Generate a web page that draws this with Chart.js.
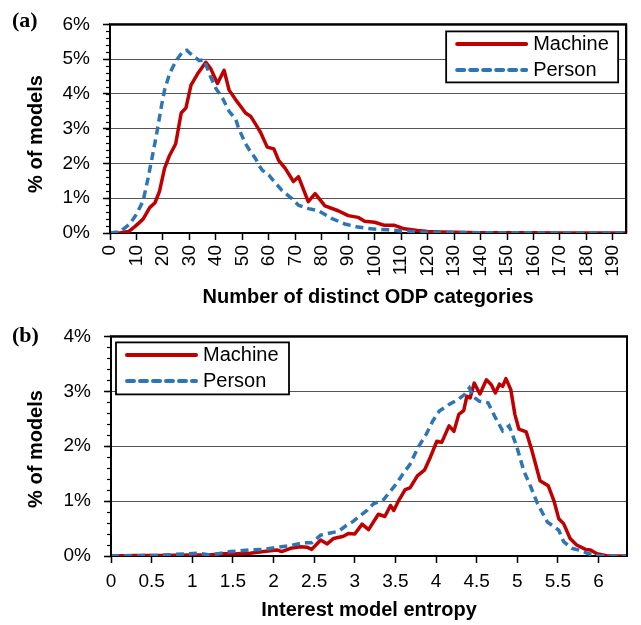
<!DOCTYPE html>
<html>
<head>
<meta charset="utf-8">
<script src="https://cdn.jsdelivr.net/npm/chart.js@4.4.1/dist/chart.umd.min.js"></script>
<style>
  html, body { margin: 0; padding: 0; background: #fff; }
  #wrap { position: relative; width: 641px; height: 625px; }
  canvas { position: absolute; left: 0; }
  #ca { top: 0; }
  #cb { top: 312px; }
</style>
</head>
<body>
<div id="wrap">
  <canvas id="ca" width="641" height="312"></canvas>
  <canvas id="cb" width="641" height="313"></canvas>
</div>
<script>
// ---------- Panel (a): number of distinct ODP categories ----------
const catTicks = [0,10,20,30,40,50,60,70,80,90,100,110,120,130,140,150,160,170,180,190];
const pctTicksA = [0,1,2,3,4,5,6];

const machineCatX = [0,4,7,9.5,12.5,15,17,18.7,20.6,22.5,24.8,26.9,28.7,30.6,33.1,36.2,38.1,40.6,43.1,45,47.5,49.4,51.2,53.1,55,56.9,59.4,61.9,63.7,66.2,69.3,71.2,74.9,77.5,81.2,86.2,90,93.7,96.2,100,103.7,107.5,111.2,116.2,120,125,130,140,150,160,170,180,190,195];
const machineCatY = [0,0.01,0.04,0.19,0.4,0.73,0.87,1.2,1.86,2.23,2.56,3.45,3.6,4.25,4.58,4.91,4.72,4.3,4.68,4.11,3.83,3.64,3.45,3.36,3.13,2.89,2.47,2.42,2.09,1.86,1.48,1.62,0.9,1.13,0.78,0.64,0.5,0.45,0.34,0.31,0.22,0.22,0.12,0.07,0.04,0.03,0.02,0.01,0.01,0.005,0.003,0.002,0.001,0];

const personCatX = [0,3.75,7.5,10,12.5,14.4,15.6,17.5,19.4,20.6,22.5,25,27.5,29,31.25,33.75,35.6,37.5,40,42.5,45,47.5,48.7,51.25,53,55,56.2,57.5,60,61.25,65,68.7,71.2,75,78.7,83.7,88.7,93.7,98.7,105,111.2,117.5,125,135,150,170,195];
const personCatY = [0,0.04,0.26,0.54,0.92,1.58,2.05,2.8,3.64,4.11,4.58,4.96,5.22,5.26,5.1,4.96,4.98,4.58,4.16,3.88,3.5,3.27,2.99,2.56,2.35,2.14,1.95,1.81,1.67,1.55,1.22,0.99,0.8,0.7,0.64,0.42,0.26,0.17,0.12,0.09,0.056,0.03,0.015,0.01,0.005,0.003,0.002];

// ---------- Panel (b): interest model entropy ----------
const entTicks = [0,0.5,1,1.5,2,2.5,3,3.5,4,4.5,5,5.5,6];
const pctTicksB = [0,1,2,3,4];

const machineEntX = [0,0.3,0.6,0.98,1.2,1.39,1.55,1.71,1.88,2.04,2.1,2.21,2.33,2.41,2.47,2.58,2.66,2.74,2.86,2.92,3.0,3.09,3.17,3.29,3.37,3.44,3.48,3.54,3.62,3.68,3.77,3.86,3.93,4.01,4.07,4.16,4.22,4.28,4.34,4.38,4.42,4.47,4.54,4.62,4.68,4.73,4.78,4.82,4.86,4.92,4.97,5.02,5.11,5.18,5.28,5.38,5.45,5.51,5.57,5.65,5.73,5.84,5.9,5.98,6.11,6.35];
const machineEntY = [0,0.01,0.01,0.02,0.02,0.04,0.04,0.05,0.08,0.11,0.08,0.14,0.17,0.16,0.12,0.29,0.22,0.32,0.36,0.41,0.4,0.58,0.48,0.76,0.72,0.92,0.83,1.01,1.21,1.24,1.46,1.57,1.8,2.09,2.07,2.37,2.27,2.58,2.65,2.91,2.88,3.15,2.95,3.21,3.12,2.97,3.13,3.09,3.23,3.03,2.58,2.31,2.26,1.92,1.37,1.28,1.01,0.68,0.59,0.32,0.2,0.12,0.11,0.04,0,0];

const personEntX = [0,0.3,0.57,0.8,1.06,1.22,1.47,1.71,1.88,2.04,2.21,2.37,2.47,2.58,2.7,2.8,2.9,2.98,3.07,3.15,3.23,3.35,3.41,3.51,3.59,3.68,3.78,3.88,3.96,4.04,4.16,4.27,4.35,4.41,4.45,4.53,4.64,4.72,4.82,4.9,4.99,5.08,5.16,5.25,5.37,5.51,5.57,5.67,5.78,5.88,6.02,6.35];
const personEntY = [0,0.005,0.01,0.03,0.05,0.02,0.08,0.11,0.12,0.16,0.19,0.24,0.24,0.38,0.42,0.45,0.56,0.63,0.74,0.83,0.95,1.02,1.13,1.31,1.49,1.67,1.98,2.22,2.46,2.64,2.76,2.85,2.94,3.06,2.91,2.82,2.79,2.55,2.28,2.37,2.01,1.55,1.28,0.95,0.62,0.47,0.26,0.14,0.1,0.04,0,0];

const seriesNames = ['Machine', 'Person'];

// ---------- shared styling ----------
Chart.defaults.font.family = '"Liberation Sans", Arial, sans-serif';
Chart.defaults.color = '#000';

const RED = '#C00000';
const BLUE = '#2E75B6';

function pts(xs, ys) { return xs.map((v, i) => ({ x: v, y: ys[i] })); }

function makeDatasets(mx, my, px, py) {
  return [
    { label: seriesNames[0], data: pts(mx, my), borderColor: RED, backgroundColor: RED,
      borderWidth: 3.5, pointRadius: 0, tension: 0, borderJoinStyle: 'round', order: 2 },
    { label: seriesNames[1], data: pts(px, py), borderColor: BLUE, backgroundColor: BLUE,
      borderWidth: 3.5, borderDash: [8, 5], pointRadius: 0, tension: 0, order: 1 }
  ];
}

const decor = {
  id: 'decor',
  beforeDatasetsDraw(chart) {
    const { ctx, chartArea: a } = chart;
    ctx.save();
    ctx.strokeStyle = '#000';
    ctx.lineWidth = 2;
    ctx.strokeRect(a.left, a.top, a.right - a.left, a.bottom - a.top);
    ctx.restore();
  },
  afterDraw(chart, args, o) {
    const { ctx, chartArea: a, scales: { y } } = chart;
    ctx.save();
    // minor ticks on y axis
    ctx.strokeStyle = '#000';
    ctx.lineWidth = 1.2;
    const n = Math.round((y.max - y.min) / o.minorStep);
    for (let i = 0; i <= n; i++) {
      const py = Math.round(y.getPixelForValue(y.min + i * o.minorStep)) + 0.5;
      ctx.beginPath(); ctx.moveTo(a.left - 4, py); ctx.lineTo(a.left, py); ctx.stroke();
    }
    // redraw border sides on top of datasets' edges
    ctx.lineWidth = 2;
    ctx.beginPath();
    ctx.moveTo(a.left, a.bottom); ctx.lineTo(a.left, a.top); ctx.lineTo(a.right, a.top); ctx.lineTo(a.right, a.bottom);
    ctx.stroke();
    // panel label
    ctx.fillStyle = '#000';
    ctx.font = 'bold 22px "Liberation Serif", "Times New Roman", serif';
    ctx.textAlign = 'left'; ctx.textBaseline = 'middle';
    ctx.fillText(o.panel, 12, o.panelY);
    // y-axis title
    ctx.font = 'bold 20px "Liberation Sans", Arial, sans-serif';
    ctx.translate(36, o.yTitleY);
    ctx.rotate(-Math.PI / 2);
    ctx.textAlign = 'center'; ctx.textBaseline = 'middle';
    ctx.fillText('% of models', 0, 0);
    ctx.setTransform(1, 0, 0, 1, 0, 0);
    // legend
    const L = o.legend;
    const left = L.anchorRight ? a.right - L.dx - L.w : a.left + L.dx;
    const top = a.top + L.dy;
    ctx.fillStyle = '#fff';
    ctx.fillRect(left, top, L.w, L.h);
    ctx.strokeStyle = '#000'; ctx.lineWidth = 1.8;
    ctx.strokeRect(left, top, L.w, L.h);
    chart.data.datasets.forEach((ds, i) => {
      const cy = top + 12.5 + i * 26;
      ctx.strokeStyle = ds.borderColor;
      ctx.lineWidth = 4;
      ctx.lineCap = 'round';
      ctx.setLineDash(ds.borderDash ? [7, 6] : []);
      ctx.beginPath(); ctx.moveTo(left + 11, cy); ctx.lineTo(left + 80, cy); ctx.stroke();
      ctx.setLineDash([]);
      ctx.fillStyle = '#000';
      ctx.font = '20px "Liberation Sans", Arial, sans-serif';
      ctx.textAlign = 'left'; ctx.textBaseline = 'middle';
      ctx.fillText(ds.label, left + 87, cy + 1);
    });
    ctx.restore();
  }
};

function yScale(max, ticksArr, width) {
  return {
    type: 'linear', min: 0, max: max,
    afterBuildTicks: s => { s.ticks = ticksArr.map(v => ({ value: v })); },
    afterFit: s => { s.width = width; },
    ticks: { font: { size: 19 }, padding: 13, callback: v => v + '%' },
    grid: {
      color: c => (c.tick && c.tick.value > 0 && c.tick.value < max) ? '#555' : 'rgba(0,0,0,0)',
      lineWidth: 1, borderDash: [1, 1], tickColor: '#000', tickBorderDash: [], tickWidth: 1.5, tickLength: 7
    },
    border: { display: false }
  };
}

// ---------- Chart (a) ----------
new Chart(document.getElementById('ca'), {
  type: 'line',
  data: { datasets: makeDatasets(machineCatX, machineCatY, personCatX, personCatY) },
  options: {
    responsive: false, animation: false,
    layout: { padding: { top: 20, right: 11, left: 0, bottom: 0 } },
    plugins: {
      legend: { display: false }, tooltip: { enabled: false },
      decor: { minorStep: 0.2, panel: '(a)', panelY: 21, yTitleY: 134,
        legend: { anchorRight: true, dx: 8, dy: 7, w: 172, h: 51 } }
    },
    scales: {
      x: {
        type: 'linear', min: 0, max: 195,
        afterBuildTicks: s => { s.ticks = catTicks.map(v => ({ value: v })); },
        afterFit: s => { s.height = 79; },
        ticks: { font: { size: 19 }, minRotation: 90, maxRotation: 90, autoSkip: false, padding: 5,
          callback: v => String(v) },
        grid: { drawOnChartArea: false, tickColor: '#000', tickWidth: 1.5, tickLength: 7 },
        border: { display: false },
        title: { display: true, text: 'Number of distinct ODP categories',
          font: { size: 20, weight: 'bold' }, padding: { top: 0, bottom: 3 } }
      },
      y: yScale(6, pctTicksA, 110)
    }
  },
  plugins: [decor]
});

// ---------- Chart (b) ----------
new Chart(document.getElementById('cb'), {
  type: 'line',
  data: { datasets: makeDatasets(machineEntX, machineEntY, personEntX, personEntY) },
  options: {
    responsive: false, animation: false,
    layout: { padding: { top: 23, right: 14, left: 0, bottom: 0 } },
    plugins: {
      legend: { display: false }, tooltip: { enabled: false },
      decor: { minorStep: 0.2, panel: '(b)', panelY: 24, yTitleY: 137,
        legend: { anchorRight: false, dx: 5, dy: 6, w: 173, h: 52 } }
    },
    scales: {
      x: {
        type: 'linear', min: 0, max: 6.35,
        afterBuildTicks: s => { s.ticks = entTicks.map(v => ({ value: v })); },
        afterFit: s => { s.height = 69; },
        ticks: { font: { size: 19 }, maxRotation: 0, minRotation: 0, autoSkip: false, padding: 7,
          callback: v => String(v) },
        grid: { drawOnChartArea: false, tickColor: '#000', tickWidth: 1.5, tickLength: 7 },
        border: { display: false },
        title: { display: true, text: 'Interest model entropy',
          font: { size: 20, weight: 'bold' }, padding: { top: 0, bottom: 3 } }
      },
      y: yScale(4, pctTicksB, 111)
    }
  },
  plugins: [decor]
});
</script>
</body>
</html>
